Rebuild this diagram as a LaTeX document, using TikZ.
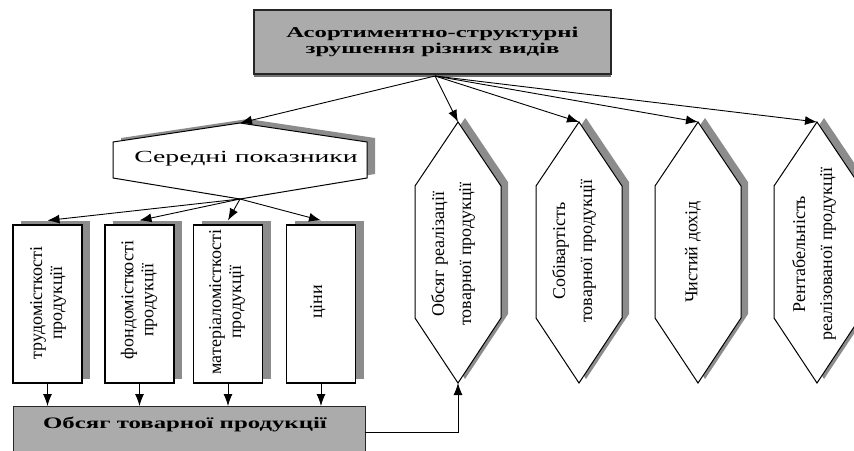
\documentclass[tikz,border=0pt]{standalone}
\usepackage{fontspec}
\setmainfont{Liberation Serif}
\usetikzlibrary{arrows.meta}
\begin{document}
\begin{tikzpicture}[x=1pt,y=-1pt,
  arr/.style={-{Latex[length=12pt,width=9pt]}, line width=0.9pt},
  shad/.style={fill=black!45, draw=none},
  graybox/.style={draw=black!85, line width=1.4pt, fill=black!33, inner sep=0pt, align=center},
  whitebox/.style={draw=black, line width=1pt, fill=white},
  rectbox/.style={draw=black, line width=1.1pt, fill=white, minimum width=69pt, minimum height=158pt, inner sep=0pt},
  rtext/.style={rotate=90, align=center, font=\fontsize{18}{20}\selectfont, inner sep=0pt},
  htext/.style={rotate=90, align=center, font=\fontsize{18}{27}\selectfont, inner sep=0pt},
  plain/.style={inner sep=0pt, align=center}
]
\useasboundingbox (0,0) rectangle (854,450);
\clip (0,0) rectangle (854,450);
\fill[white] (0,0) rectangle (854,450);

% top box
\fill[black!55] (254,13) rectangle (611,77);
\node[graybox, minimum width=357pt, minimum height=64pt] (top) at (432.5,42) {\fontsize{15}{16}\selectfont\bfseries\scalebox{1.65}[1]{\begin{tabular}{@{}c@{}}Асортиментно-структурні\\зрушення різних видів\end{tabular}}};
\coordinate (ts) at (435,76);

% hexagon "Середні показники"
\fill[shad, shift={(8,-4)}] (113,142) -- (240,123) -- (367,142) -- (367,178) -- (240,199) -- (113,178) -- cycle;
\draw[whitebox] (113,142) -- (240,123) -- (367,142) -- (367,178) -- (240,199) -- (113,178) -- cycle;
\coordinate (spt) at (240,123);
\coordinate (spb) at (240,199);
\node[plain] (sptext) at (246,159) {\fontsize{17}{17}\selectfont\scalebox{1.63}[1]{Середні показники}};

% vertical hexagons
\foreach \c/\n in {458/h1,579/h2,698/h3,817/h4}{
  \fill[shad, shift={(7,-4)}] (\c,122) -- (\c-43,186) -- (\c-43,318) -- (\c,383) -- (\c+43,318) -- (\c+43,186) -- cycle;
  \draw[whitebox] (\c,122) -- (\c-43,186) -- (\c-43,318) -- (\c,383) -- (\c+43,318) -- (\c+43,186) -- cycle;
  \coordinate (\n t) at (\c,122);
  \coordinate (\n b) at (\c,383);
}
\node[htext] (t1) at (453,254) {Обсяг реалізації\\товарної продукції};
\node[htext] (t2) at (574,251) {Собівартість\\товарної продукції};
\node[htext] (t3) at (693,252) {Чистий дохід};
\node[htext] (t4) at (814,254) {Рентабельність\\реалізованої продукції};

% rectangles
\foreach \x/\n in {47.5/r1,139.5/r2,228/r3,321/r4}{
  \fill[shad] (\x-34.5+8,225-4) rectangle (\x+34.5+8,383-4);
  \node[rectbox] (\n) at (\x,304) {};
}
\node[rtext] (rt1) at (48,303) {трудомісткості\\продукції};
\node[rtext] (rt2) at (139,300) {фондомісткості\\продукції};
\node[rtext] (rt3) at (227,302) {матеріаломісткості\\продукції};
\node[rtext] (rt4) at (318,302) {ціни};

% bottom box
\node[graybox, minimum width=352pt, minimum height=48pt, anchor=north west] (bot) at (13,406) {};
\node[plain] (bottext) at (185,424) {\fontsize{16}{16}\selectfont\bfseries\scalebox{1.55}[1]{Обсяг товарної продукції}};
\coordinate (bo) at (365,432);

% connectors
\draw[arr] (ts) -- (spt);
\draw[arr] (ts) -- (h1t);
\draw[arr] (ts) -- (h2t);
\draw[arr] (ts) -- (h3t);
\draw[arr] (ts) -- (h4t);
\foreach \n in {r1,r2,r3,r4}{
  \draw[arr] (spb) -- ([yshift=4pt]\n.north);
  \draw[arr] (\n.south) -- (\n.south |- bot.north);
}
\draw[arr] (bo) -| (h1b);
\end{tikzpicture}
\end{document}
